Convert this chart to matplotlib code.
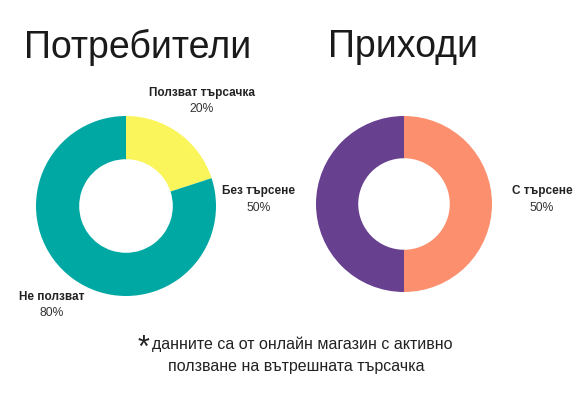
import matplotlib
matplotlib.use('Agg')
import matplotlib.pyplot as plt

# data
titles = ['Потребители', 'Приходи']
users_labels = ['Ползват търсачка', 'Не ползват']
users_values = [20, 80]
users_colors = ['#FAF55A', '#00A8A4']
revenue_labels = ['С търсене', 'Без търсене']
revenue_values = [50, 50]
revenue_colors = ['#FC8F6E', '#67408F']
footnote = ['данните са от онлайн магазин с активно',
            'ползване на вътрешната търсачка']

W, H = 587, 400
plt.rcParams['font.family'] = ['Liberation Sans', 'DejaVu Sans']
fig = plt.figure(figsize=(W / 100, H / 100), dpi=100)
fig.patch.set_facecolor('white')


def px(x, y):
    return x / W, 1 - y / H


def donut(cx, cy, r, values, colors):
    ax = fig.add_axes([(cx - r) / W, 1 - (cy + r) / H, 2 * r / W, 2 * r / H])
    ax.pie(values, colors=colors, startangle=90, counterclock=False,
           radius=1.0, wedgeprops=dict(width=0.48, linewidth=0))
    ax.set_xlim(-1, 1)
    ax.set_ylim(-1, 1)
    ax.set_aspect('equal')
    ax.axis('off')
    return ax


donut(126, 206, 90, users_values, users_colors)
donut(404, 204, 88, revenue_values, revenue_colors)

# titles
fig.text(*px(24, 47), titles[0], fontsize=27, color='#1a1a1a', ha='left', va='center')
fig.text(*px(328, 47), titles[1], fontsize=27, color='#1a1a1a', ha='left', va='center')


def label(x, y, name, val):
    fig.text(*px(x, y), name, fontsize=8.5, fontweight='bold', color='#222222',
             ha='center', va='center')
    fig.text(*px(x, y + 16.5), f'{val}%', fontsize=8.7, color='#333333',
             ha='center', va='center')


label(202, 93, users_labels[0], users_values[0])
label(52, 297, users_labels[1], users_values[1])
label(542, 191, revenue_labels[0], revenue_values[0])
label(259, 191, revenue_labels[1], revenue_values[1])

# footnote
fig.text(*px(144, 357), '*', fontsize=22, color='#222222', ha='center', va='baseline')
fig.text(*px(302, 344), footnote[0], fontsize=11.5, color='#222222', ha='center', va='center')
fig.text(*px(296, 367), footnote[1], fontsize=11.5, color='#222222', ha='center', va='center')

fig.savefig('out.png', dpi=100, facecolor='white')
